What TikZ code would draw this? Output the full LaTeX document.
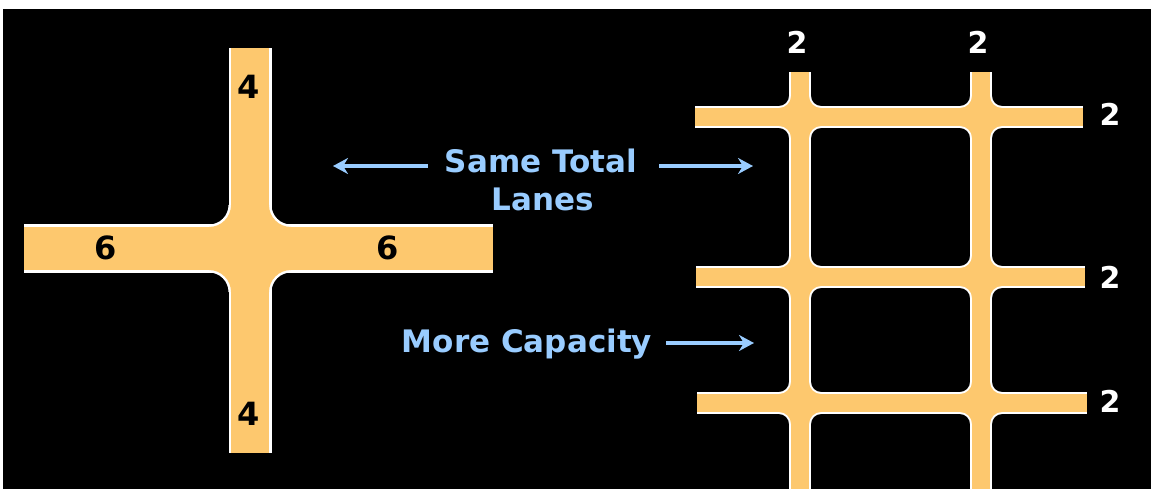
\documentclass[tikz,border=0pt]{standalone}
\usepackage{fontspec}
\setmainfont{DejaVu Sans}
\usetikzlibrary{arrows.meta}
\definecolor{road}{RGB}{253,200,110}
\definecolor{lbl}{RGB}{153,204,255}
% concave fillet patch: corner (#1,#2), outward signs (#3,#4), radius #5, colour #6
\newcommand\filpatch[6]{%
  \fill[#6] ({#1-(#3)*0.8},{#2-(#4)*0.8}) -- ({#1+(#3)*(#5)},{#2-(#4)*0.8})
    -- ({#1+(#3)*(#5)},{#2})
    .. controls ({#1+(#3)*0.4477*(#5)},{#2}) and ({#1},{#2+(#4)*0.4477*(#5)}) .. ({#1},{#2+(#4)*(#5)})
    -- ({#1-(#3)*0.8},{#2+(#4)*(#5)}) -- cycle;}
% four fillets of a junction: vertical edges #1,#2, horizontal edges #3,#4
\newcommand\junction[6]{%
  \filpatch{#1}{#3}{-1}{-1}{#5}{#6}%
  \filpatch{#2}{#3}{1}{-1}{#5}{#6}%
  \filpatch{#1}{#4}{-1}{1}{#5}{#6}%
  \filpatch{#2}{#4}{1}{1}{#5}{#6}}
\begin{document}
\begin{tikzpicture}[x=1pt,y=-1pt,
  numblack/.style={font=\bfseries\fontsize{32}{36}\selectfont,text=black,inner sep=0pt,anchor=base},
  numwhite/.style={font=\bfseries\fontsize{30}{34}\selectfont,text=white,inner sep=0pt,anchor=base},
  bluetext/.style={font=\bfseries\fontsize{31}{36}\selectfont,text=lbl,inner sep=0pt,anchor=base},
  arr/.style={draw=lbl,line width=3.5pt,-{Stealth[length=15pt,width=16pt]}}]
\useasboundingbox (0,0) rectangle (1151,489);
\fill[white] (0,0) rectangle (1151,489);
\fill[black] (3,9) rectangle (1151,489);
% ---------- left cross: white border layer ----------
\fill[white] (228.5,48) rectangle (271.5,453);
\fill[white] (24,224.5) rectangle (493,272.5);
\junction{228.5}{271.5}{224.5}{272.5}{19.5}{white}
% ---------- grid: white border layer ----------
\fill[white] (789,72) rectangle (811,489);
\fill[white] (970,72) rectangle (992,489);
\fill[white] (695,106) rectangle (1083,128);
\fill[white] (696,266) rectangle (1085,288);
\fill[white] (697,392) rectangle (1087,414);
\junction{789}{811}{106}{128}{10}{white}
\junction{970}{992}{106}{128}{10}{white}
\junction{789}{811}{266}{288}{10}{white}
\junction{970}{992}{266}{288}{10}{white}
\junction{789}{811}{392}{414}{10}{white}
\junction{970}{992}{392}{414}{10}{white}
% ---------- left cross: road layer ----------
\fill[road] (231,48) rectangle (269,453);
\fill[road] (24,227) rectangle (493,270);
\junction{231}{269}{227}{270}{22}{road}
% ---------- grid: road layer ----------
\fill[road] (791,72) rectangle (809,489);
\fill[road] (972,72) rectangle (990,489);
\fill[road] (695,108) rectangle (1083,126);
\fill[road] (696,268) rectangle (1085,286);
\fill[road] (697,394) rectangle (1087,412);
\junction{791}{809}{108}{126}{12}{road}
\junction{972}{990}{108}{126}{12}{road}
\junction{791}{809}{268}{286}{12}{road}
\junction{972}{990}{268}{286}{12}{road}
\junction{791}{809}{394}{412}{12}{road}
\junction{972}{990}{394}{412}{12}{road}
% ---------- labels ----------
\node[numblack] (n4a) at (249,99) {4};
\node[numblack] (n4b) at (249,425) {4};
\node[numblack] (n6a) at (106,259) {6};
\node[numblack] (n6b) at (388,259) {6};
\node[numwhite] (t1) at (797,54) {2};
\node[numwhite] (t2) at (978,54) {2};
\node[numwhite] (r1) at (1110,126) {2};
\node[numwhite] (r2) at (1110,288) {2};
\node[numwhite] (r3) at (1110,412) {2};
\node[bluetext] (same) at (541,173) {Same Total};
\node[bluetext] (lanes) at (543,211) {Lanes};
\node[bluetext] (more) at (527,352) {More Capacity};
% ---------- arrows ----------
\coordinate (tipL) at (333,166);
\coordinate (tipR) at (753,166);
\coordinate (tipM) at (754,343);
\draw[arr] ([xshift=-17pt]tipL -| same.west) -- (tipL);
\draw[arr] ([xshift=22pt]tipR -| same.east) -- (tipR);
\draw[arr] ([xshift=14pt]tipM -| more.east) -- (tipM);
\end{tikzpicture}
\end{document}
